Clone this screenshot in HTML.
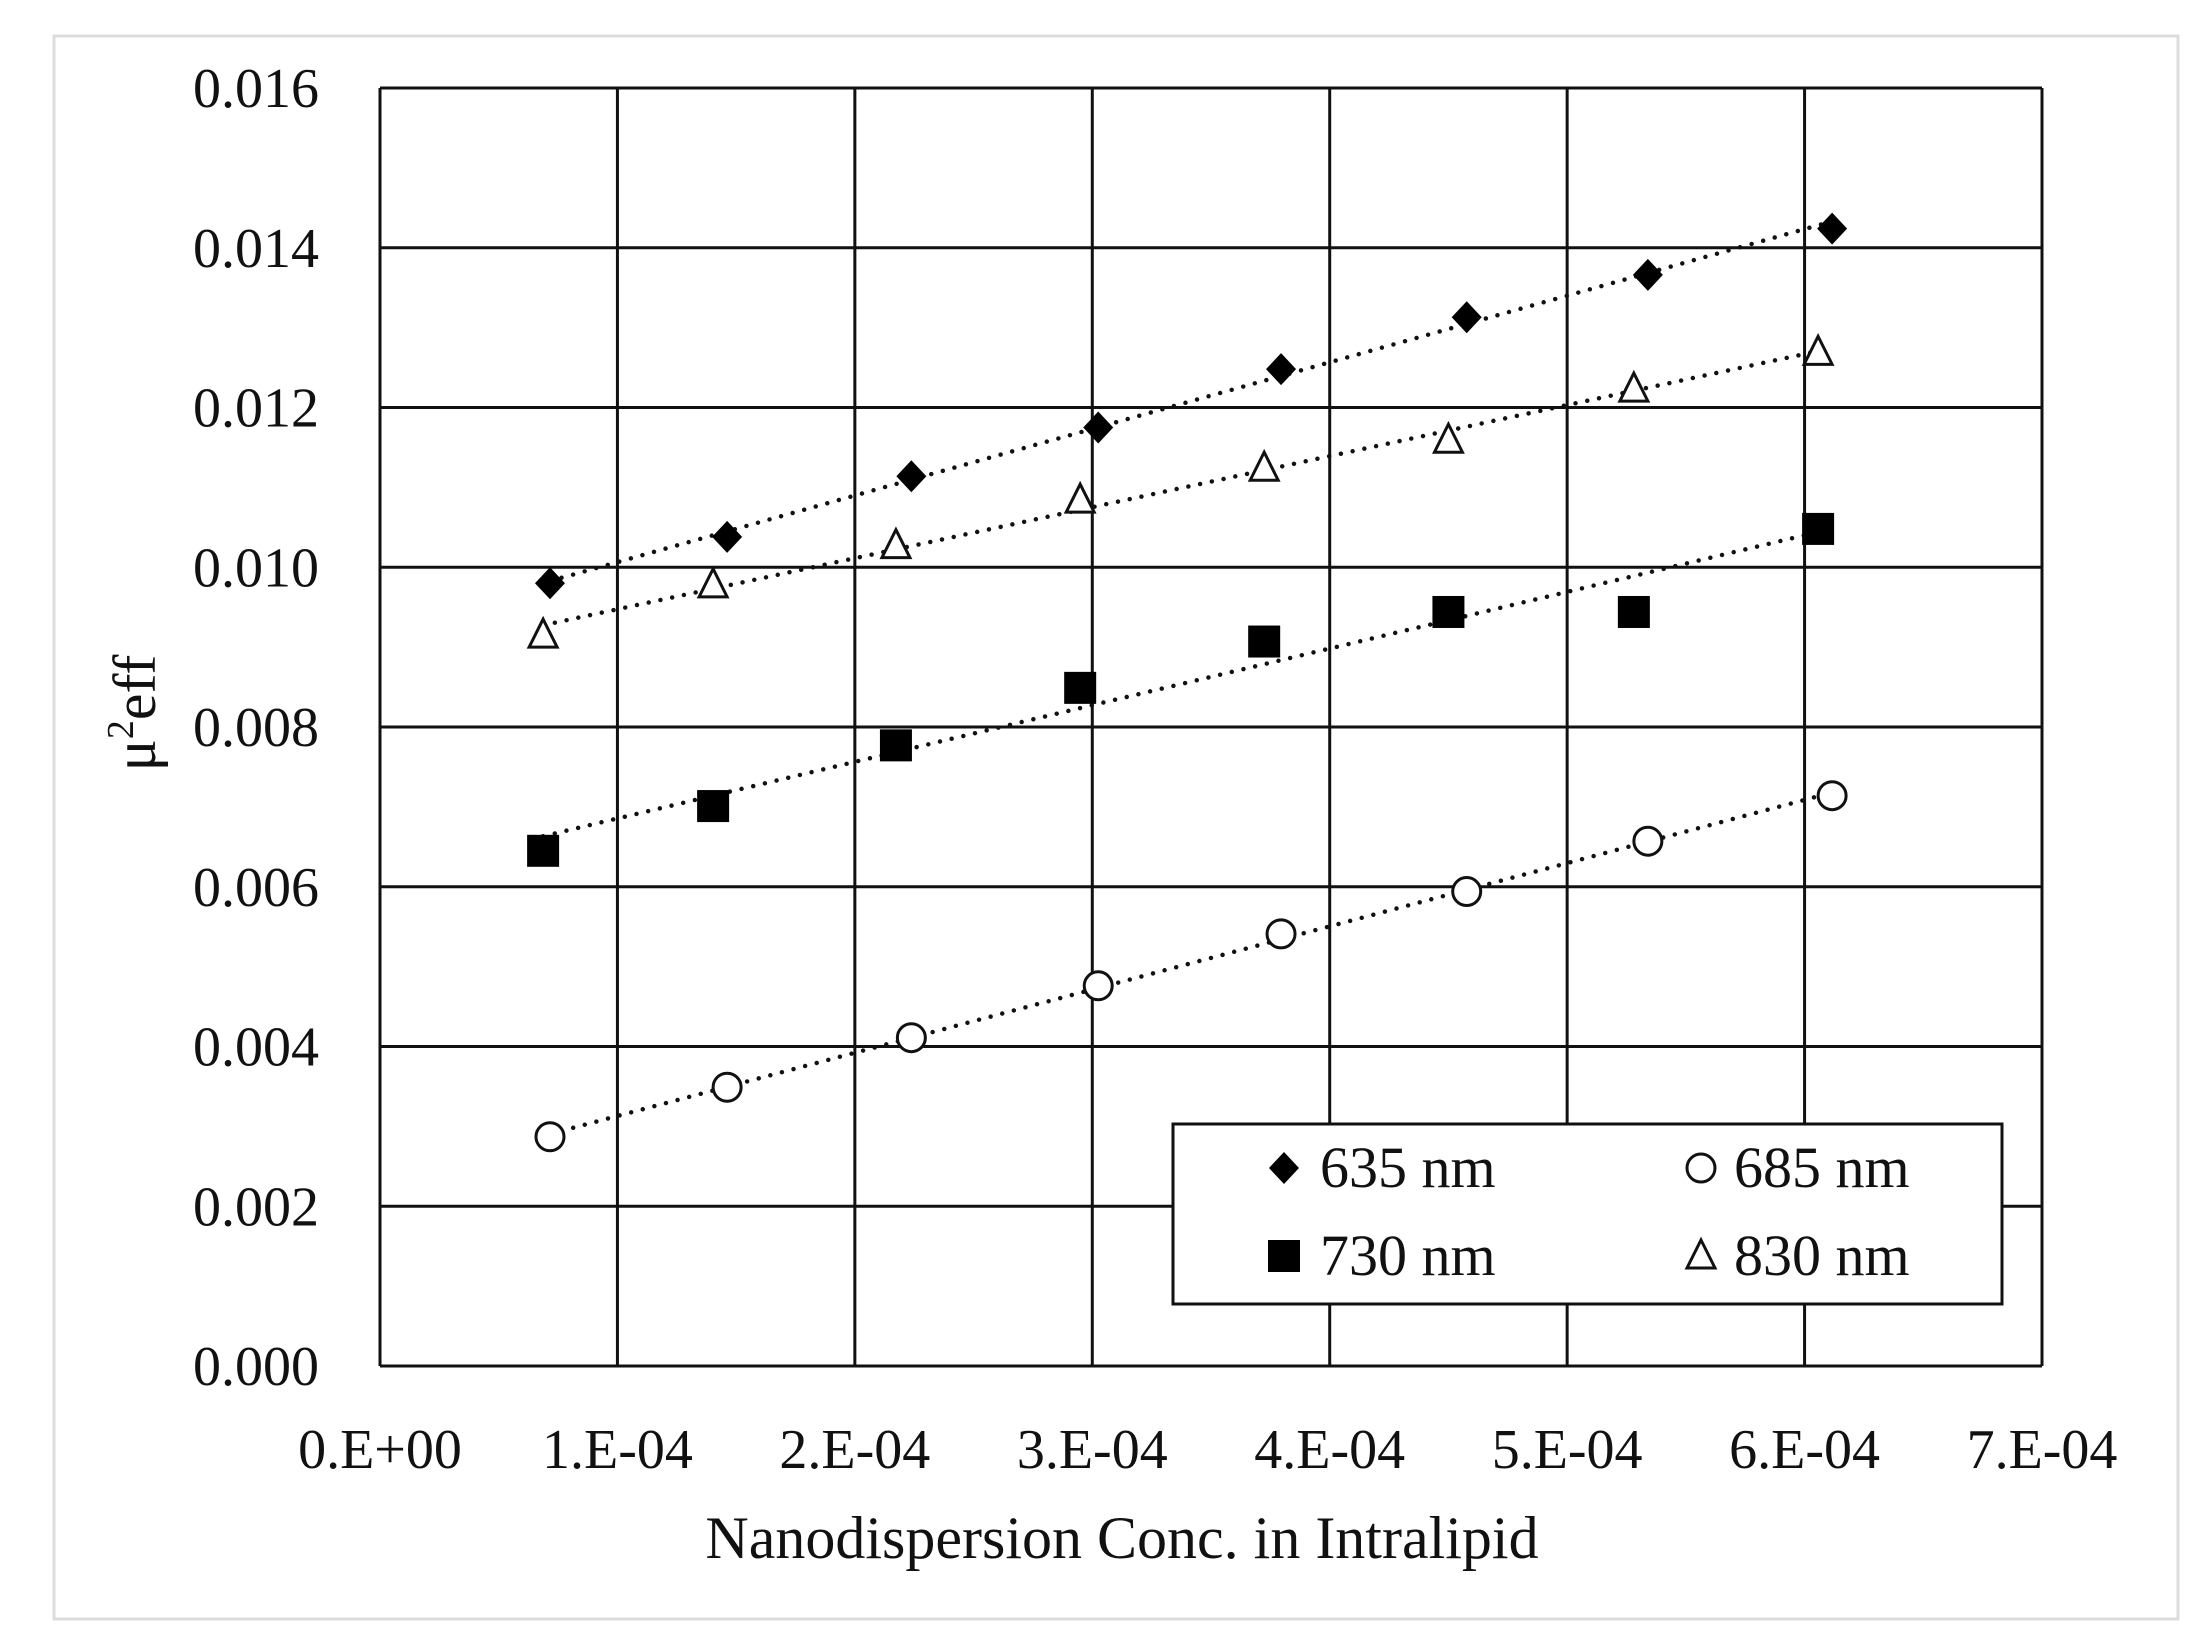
<!DOCTYPE html>
<html><head><meta charset="utf-8">
<style>
html,body{margin:0;padding:0;background:#fff;}
svg{display:block;}
text{font-family:"Liberation Serif",serif;fill:#111;}
</style></head>
<body>
<svg id="chart" width="2203" height="1647" viewBox="0 0 2203 1647" xmlns="http://www.w3.org/2000/svg">
<rect x="54" y="36" width="2124" height="1583" fill="#fff" stroke="#dcdcdc" stroke-width="3"/>
<g id="grid"></g>
<g id="trend"></g>
<g id="marks"></g>
<g id="ticks"></g>
<text x="1122" y="1558" font-size="60" text-anchor="middle">Nanodispersion  Conc. in Intralipid</text>
<text transform="translate(155,713) rotate(-90)" font-size="60" text-anchor="middle">μ<tspan font-size="38" dy="-22">2</tspan><tspan dy="22">eff</tspan></text>
<g id="legend">
<rect x="1173" y="1124" width="829" height="180" fill="#fff" stroke="#111" stroke-width="3"/>
</g>
</svg>
<script>
const xTicks=[0,1e-4,2e-4,3e-4,4e-4,5e-4,6e-4,7e-4];
const xTickLabels=["0.E+00","1.E-04","2.E-04","3.E-04","4.E-04","5.E-04","6.E-04","7.E-04"];
const yTicks=[0,0.002,0.004,0.006,0.008,0.010,0.012,0.014,0.016];
const yTickLabels=["0.000","0.002","0.004","0.006","0.008","0.010","0.012","0.014","0.016"];
const x635=[0.716e-4,1.462e-4,2.238e-4,3.025e-4,3.795e-4,4.577e-4,5.340e-4,6.116e-4];
const y635=[0.00980,0.01038,0.01114,0.01175,0.01248,0.01313,0.01366,0.01424];
const x685=[0.716e-4,1.462e-4,2.238e-4,3.025e-4,3.795e-4,4.577e-4,5.340e-4,6.116e-4];
const y685=[0.00287,0.00349,0.00411,0.00476,0.00541,0.00594,0.00657,0.00714];
const x730=[0.687e-4,1.403e-4,2.173e-4,2.949e-4,3.724e-4,4.500e-4,5.281e-4,6.057e-4];
const y730=[0.00645,0.00701,0.00777,0.00849,0.00907,0.00944,0.00944,0.01048];
const x830=[0.687e-4,1.403e-4,2.173e-4,2.949e-4,3.724e-4,4.500e-4,5.281e-4,6.057e-4];
const y830=[0.00915,0.00978,0.01027,0.01084,0.01124,0.01159,0.01223,0.01269];

const L=380,R=2042,T=88,B=1366;
const sx=v=>L+(v-0)/(7e-4)*(R-L);
const sy=v=>B-(v-0)/0.016*(B-T);
const NS="http://www.w3.org/2000/svg";
function mk(tag,attrs,parent){const e=document.createElementNS(NS,tag);for(const k in attrs)e.setAttribute(k,attrs[k]);parent.appendChild(e);return e;}
const grid=document.getElementById('grid'),ticks=document.getElementById('ticks'),marks=document.getElementById('marks'),trend=document.getElementById('trend'),legend=document.getElementById('legend');

xTicks.forEach((v,i)=>{
  const l=mk('line',{x1:sx(v),x2:sx(v),y1:T,y2:B,stroke:'#111','stroke-width':3},grid);
  
  
  const t=mk('text',{x:sx(v),y:1468,'font-size':56,'text-anchor':'middle'},ticks);
  t.textContent=xTickLabels[i];
  
  
});
yTicks.forEach((v,i)=>{
  const l=mk('line',{x1:L,x2:R,y1:sy(v),y2:sy(v),stroke:'#111','stroke-width':3},grid);
  
  
  const t=mk('text',{x:319,y:sy(v)+19,'font-size':56,'text-anchor':'end'},ticks);
  t.textContent=yTickLabels[i];
  
  
});

function marker(type,cx,cy,parent){
  let e;
  if(type==='diamond') e=mk('polygon',{points:`${cx},${cy-16} ${cx+15},${cy} ${cx},${cy+16} ${cx-15},${cy}`,fill:'#000'},parent);
  else if(type==='square') e=mk('rect',{x:cx-16,y:cy-16,width:32,height:32,fill:'#000'},parent);
  else if(type==='circle') e=mk('circle',{cx:cx,cy:cy,r:14,fill:'#fff',stroke:'#111','stroke-width':3},parent);
  else e=mk('polygon',{points:`${cx},${cy-16} ${cx+14},${cy+12} ${cx-14},${cy+12}`,fill:'#fff',stroke:'#111','stroke-width':3},parent);
  return e;
}
const series=[[x635,y635,'diamond','635'],[x685,y685,'circle','685'],[x730,y730,'square','730'],[x830,y830,'triangle','830']];
series.forEach(([xs,ys,type,nm])=>{
  const n=xs.length;let mx=0,my=0;for(let i=0;i<n;i++){mx+=xs[i];my+=ys[i];}mx/=n;my/=n;
  let sxy=0,sxx=0;for(let i=0;i<n;i++){sxy+=(xs[i]-mx)*(ys[i]-my);sxx+=(xs[i]-mx)**2;}
  const b=sxy/sxx,a=my-b*mx;
  const x0=xs[0],x1=xs[n-1];
  const tl=mk('line',{x1:sx(x0),y1:sy(a+b*x0),x2:sx(x1),y2:sy(a+b*x1),stroke:'#111','stroke-width':4.5,'stroke-dasharray':'0 12','stroke-linecap':'round'},trend);
  
  
  xs.forEach((xv,i)=>{
    const m=marker(type,sx(xv),sy(ys[i]),marks);
    
    
  });
});
const leg=[['diamond','635 nm',1284,1168,1320],['circle','685 nm',1701,1168,1734],['square','730 nm',1284,1256,1320],['triangle','830 nm',1701,1256,1734]];
leg.forEach(([type,label,mx,my,tx])=>{
  const m=marker(type,mx,my,legend);
  
  
  const t=mk('text',{x:tx,y:my+19,'font-size':58},legend);
  t.textContent=label;
  
  
});
</script>
</body></html>
